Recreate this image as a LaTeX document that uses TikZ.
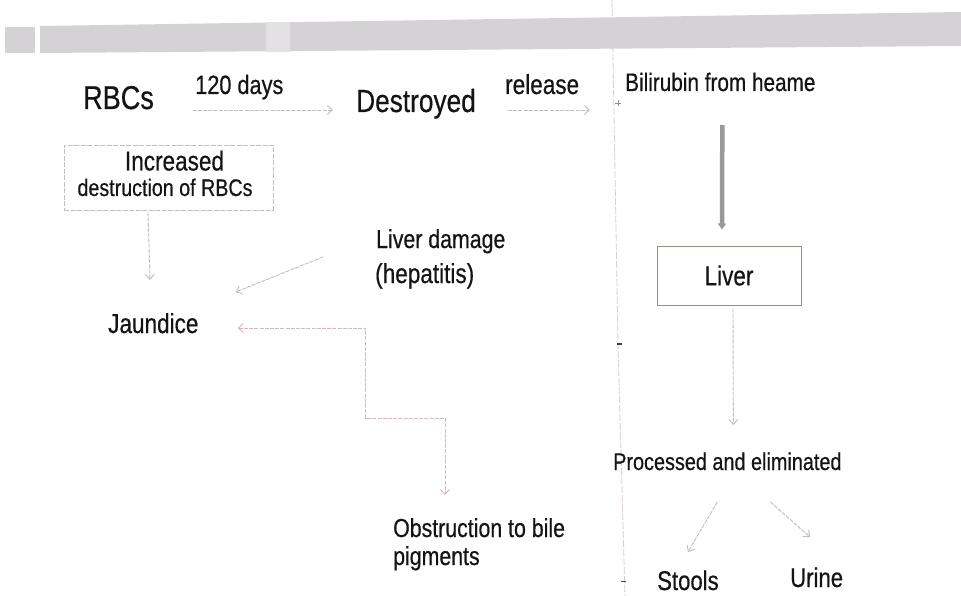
\documentclass[tikz,border=0pt]{standalone}
\usepackage{fontspec}
\newfontfamily\nf[FakeStretch=0.82,FakeBold=0.45]{Liberation Sans}
\newcommand\fsz[1]{\fontsize{#1}{#1}\selectfont}
\usetikzlibrary{arrows.meta,calc}
\definecolor{band}{RGB}{212,210,213}
\definecolor{bandlight}{RGB}{226,224,227}
\definecolor{crease}{RGB}{218,206,208}
\definecolor{ink}{RGB}{20,20,20}
\definecolor{faint}{RGB}{192,190,192}
\definecolor{pinkfaint}{RGB}{216,184,186}
\begin{document}
\begin{tikzpicture}[x=1pt,y=-1pt,
  txt/.style={inner sep=0pt, anchor=base west, text=ink},
  conn/.style={draw=faint, line width=0.9pt, dash pattern=on 4pt off 1.2pt,
    -{Straight Barb[length=5pt,width=9pt]}},
  bothconn/.style={conn, draw=pinkfaint, {Straight Barb[length=5pt,width=9pt]}-{Straight Barb[length=5pt,width=9pt]}},
  thickconn/.style={draw=black!40, line width=4.5pt, -{Triangle[length=6pt,width=8pt]}},
  incbox/.style={draw=faint, line width=0.9pt, dash pattern=on 5pt off 1.5pt, inner sep=0pt,
    minimum width=209pt, minimum height=65pt},
  liverbox/.style={draw=black!50!brown!60, line width=1pt, inner sep=0pt,
    minimum width=144pt, minimum height=59pt, text=ink, font=\nf\fsz{27.5}}
]
\useasboundingbox (0,0) rectangle (961,596);
\fill[white] (0,0) rectangle (961,596);
% grey band
\fill[band] (5,27) -- (35,27) -- (35,53) -- (5,53) -- cycle;
\fill[band] (40,26) -- (961,12) -- (961,46) -- (40,53) -- cycle;
\fill[bandlight] (266,22.5) -- (290,22.2) -- (290,52) -- (266,52.2) -- cycle;
% crease
\draw[crease, line width=0.8pt, dash pattern=on 7pt off 2pt] (612,0) -- (618,344) -- (625,596);
\draw[black!45, line width=0.6pt] (615,103) -- (621,103) (618,100) -- (618,106);
\draw[black!75, line width=1.2pt] (617,344) -- (622,344);
\draw[black!75, line width=1pt] (621,581) -- (626,581);

% text nodes
\node[txt, font=\nf\fsz{33}] (rbc) at (83,109) {RBCs};
\node[txt, font=\nf\fsz{26.5}] (days) at (195,94) {120 days};
\node[txt, font=\nf\fsz{32}] (des) at (356,112) {Destroyed};
\node[txt, font=\nf\fsz{27.5}] (rel) at (505,94) {release};
\node[txt, font=\nf\fsz{25.3}] (bil) at (625,91) {Bilirubin from heame};

\node[incbox] (inc) at (168.5,177.5) {};
\node[txt, anchor=base, font=\nf\fsz{27.5}] (inc1) at (174.5,170.5) {Increased};
\node[txt, anchor=base, font=\nf\fsz{24}] (inc2) at (165,196) {destruction of RBCs};

\node[txt, font=\nf\fsz{26}] (ld) at (376,248) {Liver damage};
\node[txt, font=\nf\fsz{27.5}] (hep) at (375,283) {(hepatitis)};
\node[txt, font=\nf\fsz{27.5}] (jau) at (108,333) {Jaundice};

\node[liverbox] (liver) at (729,275.5) {Liver};

\node[txt, font=\nf\fsz{24.2}] (proc) at (613,470) {Processed and eliminated};
\node[txt, font=\nf\fsz{26}] (obs) at (393,537) {Obstruction to bile};
\node[txt, font=\nf\fsz{26}] (pig) at (393,565) {pigments};
\node[txt, font=\nf\fsz{27}] (sto) at (657,590) {Stools};
\node[txt, font=\nf\fsz{27}] (uri) at (790,587) {Urine};

% connectors
\draw[conn] ([shift={(38.5,1)}]rbc.base east) -- ([shift={(-23,-2)}]des.base west);
\draw[conn] ([shift={(3,16)}]rel.base west) -- ([shift={(-35,19)}]bil.base west);
\draw[thickconn] ([shift={(2,34)}]bil.base) -- ([shift={(-7,-16)}]liver.north);
\draw[conn] ([shift={(4,3)}]liver.south) -- ([shift={(6,-45)}]proc.base);
\draw[conn] ([shift={(-10,32)}]proc.base) -- ([shift={(31,-38)}]sto.base west);
\draw[conn] ([shift={(43,32)}]proc.base) -- ([shift={(20,-50)}]uri.base west);
\draw[conn] ([shift={(-20.5,2)}]inc.south) -- ([shift={(42,-53)}]jau.base west);
\draw[conn] ([shift={(-53,9)}]ld.base west) -- ([shift={(37,-41)}]jau.base east);
\draw[bothconn] ([shift={(39,-5)}]jau.base east) -- ++(128,0) -- ++(0,90) -| ([shift={(52,-42)}]obs.base west);
\end{tikzpicture}
\end{document}
